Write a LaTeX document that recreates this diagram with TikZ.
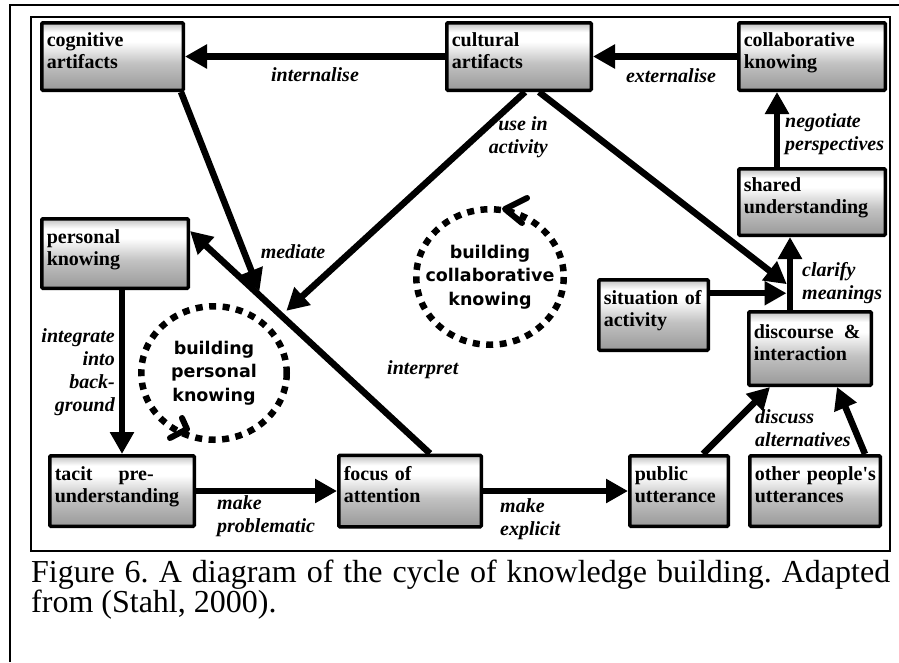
\documentclass[tikz,border=0pt]{standalone}
\usepackage{fontspec}
\setmainfont{Liberation Serif}
\newfontfamily\cycfont{DejaVu Sans}
\usetikzlibrary{arrows.meta}
\usetikzlibrary{positioning}

\pgfdeclareverticalshading{boxshade}{100bp}{color(0bp)=(black!40); color(25bp)=(black!40); color(45bp)=(black!24); color(61bp)=(white); color(68bp)=(white); color(75bp)=(black!25); color(100bp)=(black!25)}

\tikzset{
	kbox/.style={draw, line width=3.5pt, rounded corners=1pt, shading=boxshade, anchor=north west, inner xsep=5pt, inner ysep=0pt, align=left, text height=15pt, text depth=36pt, font=\fontsize{20}{22}\selectfont\bfseries},
	lab/.style={inner sep=0pt, font=\fontsize{20}{23}\selectfont\bfseries\itshape},
	arr/.style={line width=6.5pt, -{Triangle[length=22pt,width=23pt]}},
	cyctxt/.style={inner sep=0pt, align=center, font=\cycfont\fontsize{17.5}{23.5}\selectfont\bfseries},
	cyc/.style={line width=6.5pt, dash pattern=on 7pt off 6.5pt},
	chev/.style={line width=6pt, line cap=round, line join=round}
}

\begin{document}
\frenchspacing
\begin{tikzpicture}[x=1pt, y=-1pt]
\useasboundingbox (0,0) rectangle (899,662);
\draw[line width=1.5pt] (10,662) -- (10,5) -- (899,5);
\draw[line width=2.5pt] (31,17) rectangle (890,551);

\node[kbox, text width=131.5pt, minimum height=67.5pt] (cog) at (40,21) {cognitive\\artifacts};
\node[kbox, text width=134.5pt, minimum height=67.5pt, right=260pt of cog] (cult) {cultural\\artifacts};
\node[kbox, text width=136.5pt, minimum height=67.5pt, right=144pt of cult] (collab) {collaborative\\knowing};
\node[kbox, text width=136.5pt, minimum height=66.5pt, below=75pt of collab] (shared) {shared\\understanding};
\node[kbox, text width=136.5pt, minimum height=69.5pt] (pers) at (40,217) {personal\\knowing};
\node[kbox, text width=99.5pt, minimum height=70.5pt] (sit) at (597,278) {situation~of\\activity};
\node[kbox, text width=112.5pt, minimum height=73.5pt] (disc) at (747,310) {discourse\hspace{10pt}\&\\interaction};
\node[kbox, text width=134.5pt, minimum height=70.5pt] (tacit) at (48,454) {tacit\hspace{26pt}pre-\\understanding};
\node[kbox, text width=132.5pt, minimum height=71.5pt, right=141pt of tacit] (focus) {focus of\\attention};
\node[kbox, text width=88.5pt, minimum height=70.5pt, right=145pt of focus] (pub) {public\\utterance};
\node[kbox, text width=120.5pt, minimum height=70.5pt, right=18pt of pub] (other) {\mbox{other people\textquotesingle s}\\utterances};

\node[cyctxt] (perscyc) at (214,373) {building\\personal\\knowing};
\node[cyctxt] (collcyc) at (490,277) {building\\collaborative\\knowing};
\draw[cyc] (perscyc.center) ellipse [x radius=72.75, y radius=66.75];
\draw[cyc] (collcyc.center) ellipse [x radius=73.75, y radius=67.75];
\draw[chev] (182,418) -- (187,429) -- (170,438);
\draw[chev] (527,198) -- (505,209) -- (522,223);

\draw[arr] (cult) -- (cog);
\draw[arr] (collab) -- (cult);
\draw[arr] ([xshift=-35pt]shared.north) -- ([xshift=-35pt]collab.south);
\draw[arr] ([xshift=-20pt]disc.north) -- coordinate[pos=0.23] (meetS) coordinate[pos=0.32] (meetC) ([xshift=-22pt]shared.south);
\draw[arr, shorten >=3.5pt] (sit.east |- meetS) -- (meetS);
\draw[arr, shorten >=4pt] ([xshift=20pt]cult.south) -- (meetC);
\draw[arr] ([xshift=20pt]focus.north) -- coordinate[pos=0.62] (medC) coordinate[pos=0.70] (medG) ([yshift=-14pt]pers.north east);
\draw[arr, shorten >=7pt] ([xshift=6pt]cult.south) -- (medC);
\draw[arr, shorten >=7pt] ([xshift=-4pt]cog.south east) -- (medG);
\draw[arr] ([xshift=7pt]pers.south) -- (tacit.north);
\draw[arr] (tacit) -- (focus);
\draw[arr] (focus) -- (pub);
\draw[arr] ([xshift=24pt]pub.north) -- ([xshift=-40pt]disc.south);
\draw[arr] ([xshift=50pt]other.north) -- ([xshift=27pt]disc.south);

\node[lab] (intl) at (315,75) {internalise};
\node[lab] (extl) at (671,76) {externalise};
\node[lab, anchor=west, align=left] (nego) at (785,134) {negotiate\\perspectives};
\node[lab, anchor=west, align=left] (clar) at (802,283) {clarify\\meanings};
\node[lab, anchor=east, align=right] (usein) at (548,137) {use in\\activity};
\node[lab] (medi) at (293,252) {mediate};
\node[lab, anchor=east, align=right] (integ) at (115,372) {integrate\\into\\back-\\ground};
\node[lab, anchor=west] (interp) at (387,370) {interpret};
\node[lab, anchor=west, align=left] (mkprob) at (217,516) {make\\problematic};
\node[lab, anchor=west, align=left] (mkexpl) at (500,519) {make\\explicit};
\node[lab, anchor=west, align=left] (discalt) at (755,428) {discuss\\alternatives};

\node[anchor=north west, inner sep=0pt, align=left, font=\fontsize{32}{30}\selectfont] (cap) at (31,560) {\makebox[859pt][s]{Figure 6. A diagram of the cycle of knowledge building. Adapted}\\from (Stahl, 2000).};
\end{tikzpicture}
\end{document}
